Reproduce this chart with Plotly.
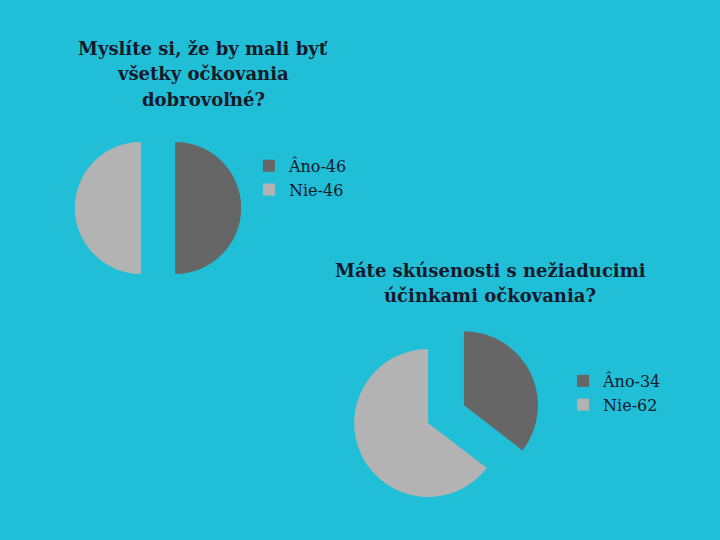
import plotly.graph_objects as go

labels1 = ["Âno-46", "Nie-46"]
values1 = [46, 46]
labels2 = ["Âno-34", "Nie-62"]
values2 = [34, 62]
colors = ["#666666", "#B3B3B3"]
title1_lines = ["Myslíte si, že by mali byť", "všetky očkovania", "dobrovoľné?"]
title2_lines = ["Máte skúsenosti s nežiaducimi", "účinkami očkovania?"]

BG = "#21BED7"
TXT = "#141a2a"
SERIF = "DejaVu Serif, Liberation Serif, serif"

fig = go.Figure()
fig.add_trace(go.Pie(
    labels=labels1, values=values1, sort=False, direction="clockwise", rotation=0,
    pull=[0.26, 0.26], textinfo="none", hoverinfo="label+value",
    marker=dict(colors=colors, line=dict(width=0)),
    domain=dict(x=[0.104, 0.335], y=[0.461, 0.769]),
    legend="legend",
))
fig.add_trace(go.Pie(
    labels=labels2, values=values2, sort=False, direction="clockwise", rotation=0,
    pull=[0.27, 0.27], textinfo="none", hoverinfo="label+value",
    marker=dict(colors=colors, line=dict(width=0)),
    domain=dict(x=[0.489, 0.75], y=[0.059, 0.407]),
    legend="legend2",
))

annotations = []
for i, line in enumerate(title1_lines):
    annotations.append(dict(text=line, x=203/720, y=1-(48+25.5*i)/540, xref="paper", yref="paper",
                            xanchor="center", yanchor="middle", showarrow=False,
                            font=dict(size=18, family=SERIF, color=TXT, weight="bold")))
for i, line in enumerate(title2_lines):
    annotations.append(dict(text=line, x=490/720, y=1-(270+25.5*i)/540, xref="paper", yref="paper",
                            xanchor="center", yanchor="middle", showarrow=False,
                            font=dict(size=18, family=SERIF, color=TXT, weight="bold")))

fig.update_layout(
    width=720, height=540,
    margin=dict(l=0, r=0, t=0, b=0),
    paper_bgcolor=BG, plot_bgcolor=BG,
    font=dict(family=SERIF, color=TXT),
    legend=dict(x=0.3458, y=0.7245, xanchor="left", yanchor="top",
                bgcolor="rgba(0,0,0,0)", font=dict(size=16, family=SERIF, color=TXT),
                itemclick=False),
    legend2=dict(x=0.782, y=0.326, xanchor="left", yanchor="top",
                 bgcolor="rgba(0,0,0,0)", font=dict(size=16, family=SERIF, color=TXT),
                 itemclick=False),
    annotations=annotations,
)

fig.write_html("out.html", config={"displayModeBar": False},
               post_script="document.body.style.margin='0';")
